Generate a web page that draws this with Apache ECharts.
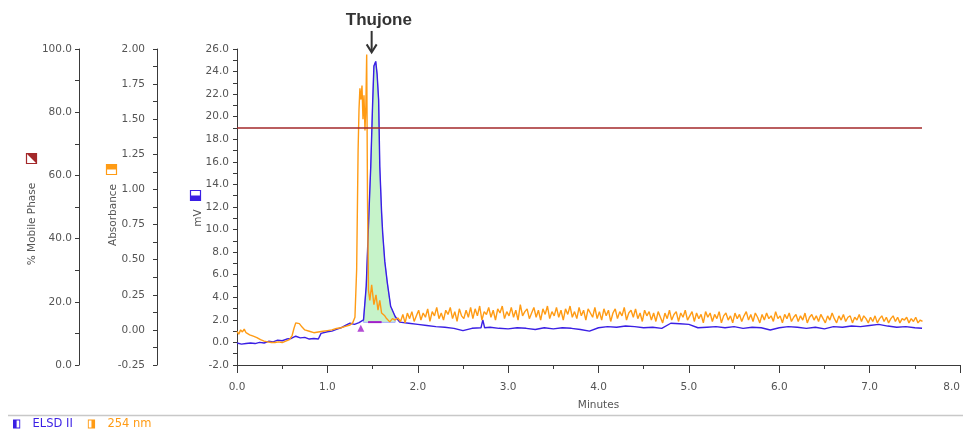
<!DOCTYPE html>
<html>
<head>
<meta charset="utf-8">
<script src="https://cdn.jsdelivr.net/npm/echarts@6/dist/echarts.min.js"></script>
<style>
  html, body { margin: 0; padding: 0; background: #ffffff; }
  #chart { width: 963px; height: 430px; }
</style>
</head>
<body>
<div id="chart"></div>
<script>
// ELSD II detector trace: retention time (min) and signal (mV)
const elsdTime = [
  0.00, 0.05, 0.10, 0.15, 0.20, 0.25, 0.30, 0.35, 0.40, 0.45,
  0.50, 0.55, 0.60, 0.65, 0.70, 0.75, 0.80, 0.85, 0.90, 0.93,
  1.00, 1.05, 1.10, 1.15, 1.20, 1.25, 1.30, 1.35, 1.40, 1.43,
  1.46, 1.48, 1.50, 1.515, 1.535, 1.55, 1.567, 1.58, 1.60, 1.612,
  1.635, 1.663, 1.70, 1.75, 1.80, 1.90, 2.00, 2.10, 2.20, 2.30,
  2.40, 2.50, 2.60, 2.70, 2.72, 2.74, 2.80, 2.90, 3.00, 3.10,
  3.20, 3.30, 3.40, 3.50, 3.60, 3.70, 3.80, 3.90, 4.00, 4.10,
  4.20, 4.30, 4.40, 4.50, 4.60, 4.70, 4.80, 4.90, 5.00, 5.10,
  5.20, 5.30, 5.40, 5.50, 5.60, 5.70, 5.80, 5.90, 6.00, 6.10,
  6.20, 6.30, 6.40, 6.50, 6.60, 6.70, 6.80, 6.90, 7.00, 7.10,
  7.20, 7.30, 7.40, 7.50, 7.58
];
const elsdMv = [
  -0.05, -0.15, -0.10, -0.05, -0.10, 0.00, -0.05, 0.10, 0.05, 0.20,
  0.15, 0.30, 0.35, 0.55, 0.40, 0.45, 0.30, 0.35, 0.30, 0.80,
  0.95, 1.00, 1.15, 1.30, 1.50, 1.70, 1.60, 1.75, 2.00, 5.00,
  11.5, 15.6, 21.0, 24.5, 24.9, 23.8, 21.5, 15.6, 11.5, 9.7,
  7.2, 5.3, 3.2, 2.3, 1.8, 1.70, 1.60, 1.50, 1.40, 1.35,
  1.25, 1.05, 1.25, 1.30, 2.00, 1.30, 1.35, 1.25, 1.20, 1.30,
  1.25, 1.15, 1.30, 1.20, 1.30, 1.25, 1.15, 1.00, 1.30, 1.40,
  1.35, 1.45, 1.40, 1.30, 1.35, 1.25, 1.70, 1.65, 1.60, 1.30,
  1.35, 1.40, 1.30, 1.40, 1.25, 1.35, 1.30, 1.10, 1.30, 1.40,
  1.35, 1.25, 1.35, 1.20, 1.40, 1.35, 1.45, 1.40, 1.50, 1.60,
  1.45, 1.35, 1.40, 1.30, 1.25
];

// 254 nm UV trace up to the end of the peak: time (min) and absorbance (AU)
const uvTime = [
  0.00, 0.02, 0.04, 0.06, 0.08, 0.10, 0.14, 0.18, 0.22, 0.26,
  0.30, 0.34, 0.38, 0.42, 0.46, 0.50, 0.54, 0.58, 0.61, 0.63,
  0.65, 0.67, 0.69, 0.72, 0.75, 0.80, 0.85, 0.90, 0.95, 1.00,
  1.05, 1.10, 1.15, 1.20, 1.25, 1.28, 1.305, 1.324, 1.34, 1.35,
  1.36, 1.372, 1.383, 1.394, 1.405, 1.416, 1.426, 1.435, 1.444, 1.455,
  1.47, 1.49, 1.515, 1.538, 1.56, 1.58, 1.60, 1.615, 1.635, 1.65,
  1.67, 1.69, 1.72, 1.75, 1.78
];
const uvAbs = [
  -0.01, -0.03, 0.00, -0.015, 0.005, -0.02, -0.035, -0.045, -0.055, -0.07,
  -0.08, -0.085, -0.09, -0.09, -0.085, -0.09, -0.08, -0.07, -0.04, 0.01,
  0.05, 0.06, 0.045, 0.02, 0.00, -0.01, -0.02, -0.015, -0.01, -0.005,
  0.00, 0.01, 0.015, 0.025, 0.035, 0.05, 0.09, 0.43, 1.28, 1.57,
  1.72, 1.64, 1.74, 1.50, 1.67, 1.42, 1.60, 1.96, 0.93, 0.28,
  0.21, 0.32, 0.18, 0.25, 0.14, 0.21, 0.12, 0.13, 0.10, 0.085,
  0.095, 0.057, 0.08, 0.07, 0.085
];
// 254 nm UV trace after the peak, one reading every uvTailStep minutes from uvTailStart
const uvTailStart = 1.81;
const uvTailStep = 0.025;
const uvTailAbs = [
  0.06, 0.11, 0.05, 0.12, 0.08, 0.13, 0.06, 0.10,
  0.14, 0.07, 0.12, 0.09, 0.15, 0.06, 0.13, 0.10,
  0.16, 0.08, 0.12, 0.07, 0.14, 0.11, 0.16, 0.08,
  0.13, 0.06, 0.15, 0.10, 0.08, 0.14, 0.09, 0.16,
  0.08, 0.15, 0.10, 0.17, 0.07, 0.13, 0.11, 0.16,
  0.09, 0.14, 0.07, 0.15, 0.12, 0.17, 0.08, 0.13,
  0.10, 0.16, 0.09, 0.14, 0.07, 0.18, 0.10, 0.13,
  0.15, 0.08, 0.12, 0.16, 0.09, 0.14, 0.07, 0.15,
  0.11, 0.17, 0.08, 0.13, 0.10, 0.16, 0.09, 0.14,
  0.07, 0.15, 0.11, 0.17, 0.09, 0.13, 0.08, 0.16,
  0.10, 0.14, 0.07, 0.15, 0.12, 0.09, 0.16, 0.08,
  0.13, 0.07, 0.15, 0.10, 0.14, 0.06, 0.12, 0.15,
  0.08, 0.13, 0.10, 0.16, 0.07, 0.12, 0.14, 0.09,
  0.15, 0.08, 0.12, 0.06, 0.14, 0.10, 0.13, 0.07,
  0.12, 0.06, 0.13, 0.09, 0.05, 0.12, 0.08, 0.14,
  0.07, 0.11, 0.13, 0.06, 0.12, 0.09, 0.14, 0.07,
  0.10, 0.13, 0.06, 0.12, 0.08, 0.11, 0.05, 0.13,
  0.09, 0.12, 0.06, 0.11, 0.08, 0.13, 0.05, 0.10,
  0.12, 0.07, 0.10, 0.05, 0.12, 0.08, 0.11, 0.06,
  0.10, 0.13, 0.07, 0.11, 0.06, 0.12, 0.09, 0.05,
  0.11, 0.07, 0.12, 0.08, 0.10, 0.06, 0.13, 0.08,
  0.10, 0.05, 0.11, 0.08, 0.12, 0.06, 0.09, 0.11,
  0.06, 0.10, 0.07, 0.12, 0.05, 0.09, 0.11, 0.07,
  0.10, 0.06, 0.11, 0.08, 0.05, 0.10, 0.07, 0.12,
  0.08, 0.05, 0.10, 0.07, 0.11, 0.06, 0.09, 0.10,
  0.05, 0.09, 0.07, 0.11, 0.06, 0.10, 0.08, 0.05,
  0.09, 0.06, 0.10, 0.05, 0.08, 0.10, 0.06, 0.09,
  0.05, 0.08, 0.10, 0.06, 0.09, 0.05, 0.08, 0.07,
  0.09, 0.05, 0.08, 0.06, 0.09, 0.05, 0.07, 0.06
];

// Mobile phase composition (% B) over the run
const mobileTime = [0.00, 7.58];
const mobilePct = [75, 75];

// Integrated peak: window, integration baseline and start marker
const peakWindow = [1.40, 1.76];
const peakBaseMv = 1.78;
const integrationTime = [1.45, 1.60];
const integrationMv = [1.80, 1.80];
const peakStartMarker = [1.37, 1.25];

// Peak annotation
const peakName = 'Thujone';
const arrowTipAt = [1.49, 25.7];
const arrowTailAt = [1.49, 27.6];
const peakNameAt = [1.57, 28.5];

const seriesNames = ['ELSD II', '254 nm'];

const C_BLUE = '#3a1fe4';
const C_ORANGE = '#ff9b14';
const C_RED = '#a3282a';
const C_PURPLE = '#a11fc9';
const C_AXIS = '#3a3a3a';
const C_TEXT = '#555555';
const FONT = 'DejaVu Sans';

const zip = (xs, ys) => xs.map((x, i) => [x, ys[i]]);
const elsdData = zip(elsdTime, elsdMv);
const uvData = zip(uvTime, uvAbs).concat(
  uvTailAbs.map((v, i) => [+(uvTailStart + i * uvTailStep).toFixed(3), v])
);
const mobileData = zip(mobileTime, mobilePct);
const peakPts = elsdData.filter(p => p[0] >= peakWindow[0] && p[0] <= peakWindow[1]);

const chart = echarts.init(document.getElementById('chart'), null, { renderer: 'canvas' });

const labelStyle = { color: C_TEXT, fontFamily: FONT, fontSize: 10.5 };
const nameStyle = { color: C_TEXT, fontFamily: FONT, fontSize: 10.5 };

function yAxisCfg(o) {
  return Object.assign({
    type: 'value',
    position: 'left',
    nameLocation: 'middle',
    nameRotate: 90,
    nameMoveOverlap: false,
    axisLine: { show: true, lineStyle: { color: C_AXIS, width: 1 } },
    axisTick: { show: true, length: 4, lineStyle: { color: C_AXIS } },
    minorTick: { show: true, splitNumber: 2, length: 4, lineStyle: { color: C_AXIS } },
    splitLine: { show: false },
    minorSplitLine: { show: false }
  }, o);
}

// legend glyph: outlined box with one half filled
const halfBoxLeft = 'path://M0,0H8V10H0Z M4,1V9H7V1Z';
const halfBoxRight = 'path://M0,0H8V10H0Z M1,1V9H4V1Z';

const option = {
  animation: false,
  backgroundColor: '#ffffff',
  grid: { left: 237, right: 3, top: 49, bottom: 65, containLabel: false, outerBoundsMode: 'none' },
  legend: {
    left: 13, top: 418, padding: 0,
    itemWidth: 8, itemHeight: 9, itemGap: 15,
    textStyle: { fontFamily: FONT, fontSize: 11.5, padding: [0, 0, 0, 7] },
    data: [
      { name: seriesNames[0], icon: halfBoxLeft, textStyle: { color: C_BLUE } },
      { name: seriesNames[1], icon: halfBoxRight, textStyle: { color: C_ORANGE } }
    ],
    selectedMode: false
  },
  xAxis: {
    type: 'value', min: 0, max: 8, interval: 1,
    name: 'Minutes', nameLocation: 'middle', nameGap: 35, nameMoveOverlap: false,
    nameTextStyle: nameStyle,
    axisLine: { show: true, onZero: false, lineStyle: { color: C_AXIS, width: 1 } },
    axisTick: { show: true, length: 8, lineStyle: { color: C_AXIS } },
    minorTick: { show: true, splitNumber: 2, length: 4, lineStyle: { color: C_AXIS } },
    splitLine: { show: false },
    axisLabel: Object.assign({ margin: 17, formatter: v => v.toFixed(1), alignMaxLabel: 'right' }, labelStyle)
  },
  yAxis: [
    yAxisCfg({
      name: 'mV', min: -2, max: 26, interval: 2, offset: 0, nameGap: 33,
      nameTextStyle: Object.assign({ padding: [0, 22, 0, 0] }, nameStyle),
      axisLabel: Object.assign({ margin: 8, formatter: v => v.toFixed(1) }, labelStyle)
    }),
    yAxisCfg({
      name: 'Absorbance', min: -0.25, max: 2, interval: 0.25, offset: 80, nameGap: 38,
      nameTextStyle: Object.assign({ padding: [0, 16, 0, 0] }, nameStyle),
      axisLabel: Object.assign({ margin: 12, formatter: v => v.toFixed(2) }, labelStyle)
    }),
    yAxisCfg({
      name: '% Mobile Phase', min: 0, max: 100, interval: 20, offset: 158, nameGap: 41,
      nameTextStyle: Object.assign({ padding: [0, 34, 0, 0] }, nameStyle),
      axisLabel: Object.assign({ margin: 7, formatter: v => v.toFixed(1) }, labelStyle)
    })
  ],
  series: [
    {
      name: 'peak area',
      type: 'custom',
      coordinateSystem: 'cartesian2d',
      xAxisIndex: 0, yAxisIndex: 0,
      silent: true,
      z: 1,
      data: [[peakWindow[0], peakBaseMv]],
      renderItem: function (params, api) {
        const top = peakPts.map(p => api.coord([p[0], Math.max(p[1], peakBaseMv)]));
        const bottom = [
          api.coord([peakPts[peakPts.length - 1][0], peakBaseMv]),
          api.coord([peakPts[0][0], peakBaseMv])
        ];
        return {
          type: 'polygon',
          shape: { points: top.concat(bottom) },
          style: { fill: '#c6f3c9', stroke: '#a4a8ff', lineWidth: 1 }
        };
      }
    },
    {
      name: seriesNames[0],
      type: 'line',
      xAxisIndex: 0, yAxisIndex: 0,
      data: elsdData,
      symbol: 'none', showSymbol: false,
      lineStyle: { color: C_BLUE, width: 1.4 },
      itemStyle: { color: C_BLUE },
      z: 3
    },
    {
      name: seriesNames[1],
      type: 'line',
      xAxisIndex: 0, yAxisIndex: 1,
      data: uvData,
      symbol: 'none', showSymbol: false,
      lineStyle: { color: C_ORANGE, width: 1.4 },
      itemStyle: { color: C_ORANGE },
      z: 4
    },
    {
      name: '% Mobile Phase',
      type: 'line',
      xAxisIndex: 0, yAxisIndex: 2,
      data: mobileData,
      symbol: 'none', showSymbol: false,
      lineStyle: { color: C_RED, width: 1.4 },
      itemStyle: { color: C_RED },
      z: 5
    },
    {
      name: 'integration baseline',
      type: 'line',
      xAxisIndex: 0, yAxisIndex: 0,
      data: zip(integrationTime, integrationMv),
      symbol: 'none', showSymbol: false,
      lineStyle: { color: C_PURPLE, width: 2 },
      z: 4
    },
    {
      name: 'peak start',
      type: 'scatter',
      xAxisIndex: 0, yAxisIndex: 0,
      data: [peakStartMarker],
      symbol: 'triangle', symbolSize: [7, 7],
      itemStyle: { color: C_PURPLE },
      z: 6
    }
  ]
};

chart.setOption(option);

// annotation, axis glyphs and footer rule
const tip = chart.convertToPixel({ xAxisIndex: 0, yAxisIndex: 0 }, arrowTipAt);
const tail = chart.convertToPixel({ xAxisIndex: 0, yAxisIndex: 0 }, arrowTailAt);
const lbl = chart.convertToPixel({ xAxisIndex: 0, yAxisIndex: 0 }, peakNameAt);

function axisGlyph(x, y, color, fillShape) {
  return {
    type: 'group', x: x, y: y,
    children: [
      { type: 'rect', shape: { x: 0.5, y: 0.5, width: 10, height: 10 }, style: { fill: '#ffffff', stroke: color, lineWidth: 1.2 } },
      fillShape
    ]
  };
}

chart.setOption({
  graphic: [
    {
      type: 'line',
      shape: { x1: 8, y1: 415.5, x2: 963, y2: 415.5 },
      style: { stroke: '#c8c8c8', lineWidth: 1.5 }
    },
    axisGlyph(26, 153, C_RED,
      { type: 'polygon', shape: { points: [[0.5, 0.5], [10.5, 0.5], [10.5, 10.5]] }, style: { fill: C_RED } }),
    axisGlyph(106, 164, C_ORANGE,
      { type: 'rect', shape: { x: 0.5, y: 0.5, width: 10, height: 5 }, style: { fill: C_ORANGE } }),
    axisGlyph(190, 190, C_BLUE,
      { type: 'rect', shape: { x: 0.5, y: 5.5, width: 10, height: 5 }, style: { fill: C_BLUE } }),
    {
      type: 'line',
      shape: { x1: tip[0], y1: tail[1], x2: tip[0], y2: tip[1] - 1 },
      style: { stroke: '#333333', lineWidth: 2 }
    },
    {
      type: 'polyline',
      shape: { points: [[tip[0] - 5, tip[1] - 8], [tip[0], tip[1]], [tip[0] + 5, tip[1] - 8]] },
      style: { stroke: '#333333', lineWidth: 2, fill: null }
    },
    {
      type: 'text',
      x: lbl[0], y: lbl[1],
      style: {
        text: peakName, fill: '#333333',
        font: 'bold 17px "Liberation Sans", Arial, sans-serif',
        align: 'center', verticalAlign: 'middle'
      }
    }
  ]
});
</script>
</body>
</html>
